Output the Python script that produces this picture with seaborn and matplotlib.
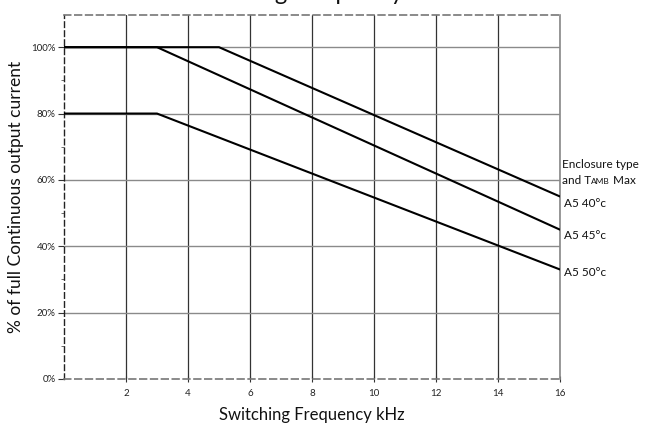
import matplotlib
matplotlib.use("Agg")
import matplotlib.pyplot as plt
from matplotlib.ticker import MultipleLocator
import pandas as pd
import seaborn as sns

# ---- data ----
series_names = ["A5 40°C", "A5 45°C", "A5 50°C"]
freq_40 = [0, 5, 16]
pct_40 = [100, 100, 55]
freq_45 = [0, 3, 16]
pct_45 = [100, 100, 45]
freq_50 = [0, 3, 16]
pct_50 = [80, 80, 33]
x_ticks = [2, 4, 6, 8, 10, 12, 14, 16]
y_ticks = [0, 20, 40, 60, 80, 100]
y_tick_labels = ["0%", "20%", "40%", "60%", "80%", "100%"]
label_texts = ["A5 40°c", "A5 45°c", "A5 50°c"]

df = pd.concat([
    pd.DataFrame({"freq": freq_40, "pct": pct_40, "series": series_names[0]}),
    pd.DataFrame({"freq": freq_45, "pct": pct_45, "series": series_names[1]}),
    pd.DataFrame({"freq": freq_50, "pct": pct_50, "series": series_names[2]}),
], ignore_index=True)

sns.set_style("white")
plt.rcParams["font.family"] = ["Lato", "DejaVu Sans"]

fig = plt.figure(figsize=(6.48, 4.26), dpi=100)
ax = fig.add_axes([64 / 648, 1 - 379 / 426, (560 - 64) / 648, (379 - 15) / 426])

# grid
for xv in x_ticks:
    ax.axvline(xv, color="#333333", lw=0.9, zorder=1)
for yv in y_ticks[1:]:
    ax.axhline(yv, color="#8a8a8a", lw=1.0, zorder=1)

sns.lineplot(data=df, x="freq", y="pct", hue="series", palette=["black"] * 3,
             legend=False, ax=ax, lw=1.5, zorder=3, sort=False,
             estimator=None)

ax.set_xlim(0, 16)
ax.set_ylim(0, 109.7)
ax.set_xticks(x_ticks)
ax.set_xticklabels([str(v) for v in x_ticks], fontsize=7, color="#222222")
ax.set_yticks(y_ticks)
ax.set_yticklabels(y_tick_labels, fontsize=7, color="#222222")
ax.yaxis.set_minor_locator(MultipleLocator(10))
ax.tick_params(axis="y", which="major", direction="out", length=4, width=0.8,
               color="#333333", pad=2, left=True)
ax.tick_params(axis="y", which="minor", direction="out", length=2, width=0.6,
               color="#555555", left=True)
ax.tick_params(axis="x", which="major", direction="inout", length=5, width=0.8,
               color="#333333", pad=4.5, bottom=True)

for side in ["top", "bottom"]:
    ax.spines[side].set_linestyle((0, (4, 2.5)))
    ax.spines[side].set_color("#777777")
    ax.spines[side].set_linewidth(1.2)
ax.spines["left"].set_linestyle((0, (4, 2.5)))
ax.spines["left"].set_color("#222222")
ax.spines["left"].set_linewidth(1.0)
ax.spines["right"].set_color("#888888")
ax.spines["right"].set_linewidth(1.2)

ax.set_xlabel("Switching Frequency kHz", fontsize=12, color="#111111")
ax.xaxis.set_label_coords(0.5, -0.077)
ax.set_ylabel("% of full Continuous output current", fontsize=12.5,
              color="#111111", va="center")
ax.yaxis.set_label_coords(-0.097, 0.5)

# cut-off title at top
fig.text(0.455, 1.0, "Switching Frequency", fontsize=17, ha="center",
         va="baseline", color="#111111")

# right-side annotations
fig.text(562 / 648, 1 - 168 / 426, "Enclosure type", fontsize=8.5, va="baseline",
         color="#111111")
t1 = fig.text(562 / 648, 1 - 184 / 426, "and T", fontsize=8.5, va="baseline",
              color="#111111")
fig.canvas.draw()
r = fig.canvas.get_renderer()
bb = t1.get_window_extent(r)
t2 = fig.text(bb.x1 / fig.bbox.width, 1 - 184 / 426, "AMB", fontsize=6,
              va="baseline", color="#111111")
bb2 = t2.get_window_extent(r)
fig.text(bb2.x1 / fig.bbox.width, 1 - 184 / 426, " Max", fontsize=8.5,
         va="baseline", color="#111111")

ends = [pct_40[-1], pct_45[-1], pct_50[-1]]
offsets = [-5, -4, -2]
for txt, yv, off in zip(label_texts, ends, offsets):
    ax.annotate(txt, xy=(16, yv), xycoords="data", xytext=(3, off),
                textcoords="offset points", fontsize=8.5, va="center",
                ha="left", color="#111111", annotation_clip=False)

fig.savefig("out.png", dpi=100)
